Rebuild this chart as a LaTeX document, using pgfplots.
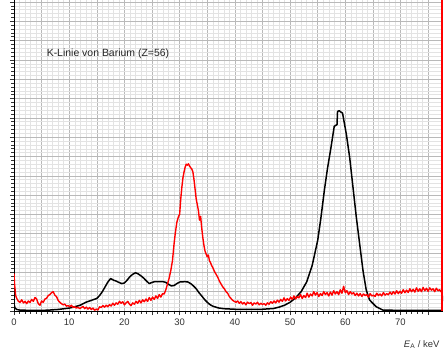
\documentclass[border=0pt]{standalone}
\usepackage{pgfplots}
\pgfplotsset{compat=1.18}
\usepackage{fontspec}
\setmainfont{Liberation Sans}
\begin{document}
\begin{tikzpicture}
\begin{axis}[
  scale only axis, width=429bp, height=311bp,
  xmin=0, xmax=77.7, ymin=0, ymax=16.1,
  axis lines=left, axis line style={-, black, line width=0.7pt},
  xtick={0,5,...,75}, xticklabels={0,,10,,20,,30,,40,,50,,60,,70,},
  minor x tick num=4,
  ytick={0,1,...,16}, yticklabels={},
  minor y tick num=4,
  grid=both,
  major grid style={gray!55, line width=0.5pt},
  minor grid style={gray!22, line width=0.4pt},
  tick align=outside, major tick length=4bp, minor tick length=2.5bp,
  tick style={black!80, line width=0.5pt},
  ticklabel style={font=\fontsize{9.5}{11}\selectfont, text=black!80},
  /pgf/number format/assume math mode=true,
  clip=true,
]
\coordinate (bl) at (rel axis cs:0,0);
\coordinate (tr) at (rel axis cs:1,1);
\addplot[black, line width=1.5pt, line join=round] coordinates {
(0,0.35)(0.2,0.15)(0.5,0.08)(1,0.05)(3,0.03)(6,0.04)(8,0.08)(10,0.15)(11,0.22)(12,0.3)(13,0.45)(14,0.55)(15,0.65)(15.5,0.8)(16,1.0)(16.5,1.25)(17,1.5)(17.5,1.68)(18,1.6)(18.5,1.55)(19,1.48)(19.5,1.42)(20,1.45)(20.5,1.6)(21,1.78)(21.5,1.9)(22,1.98)(22.5,1.92)(23,1.82)(23.5,1.7)(24,1.55)(24.5,1.42)(25,1.48)(25.5,1.52)(26,1.52)(27,1.52)(27.5,1.48)(28,1.38)(28.5,1.3)(29,1.32)(29.5,1.42)(30,1.5)(31,1.52)(31.5,1.5)(32,1.42)(32.5,1.3)(33,1.15)(33.5,0.95)(34,0.78)(34.5,0.6)(35,0.45)(35.5,0.33)(36,0.25)(37,0.16)(38,0.12)(40,0.09)(43,0.08)(45,0.09)(47,0.13)(48,0.2)(49,0.3)(50,0.45)(51,0.68)(52,1.0)(53,1.5)(54,2.35)(55,3.65)(55.6,4.85)(56.2,6.22)(56.8,7.42)(57.4,8.45)(58.0,9.56)(58.5,9.65)(58.6,10.33)(58.9,10.37)(59.2,10.3)(59.5,10.25)(60.2,9.14)(60.8,7.94)(61.4,6.39)(62.0,4.85)(62.6,3.48)(63.2,2.11)(63.8,1.08)(64.4,0.57)(65.6,0.22)(66.8,0.05)(70,0.03)(77.5,0.03)(77.6,0.8)
};
\addplot[red, line width=1.4pt, line join=round] coordinates {
(0,1.95)(0.1,1.4)(0.3,0.8)(0.5,0.65)(0.8,0.5)(1.1,0.45)(1.4,0.58)(1.7,0.42)(2.0,0.5)(2.3,0.38)(2.6,0.52)(2.9,0.44)(3.2,0.6)(3.5,0.5)(3.8,0.7)(4.1,0.62)(4.4,0.38)(4.7,0.3)(5.0,0.52)(5.3,0.45)(5.6,0.62)(5.9,0.66)(6.2,0.8)(6.5,0.85)(6.8,0.95)(7.1,1.0)(7.4,0.82)(7.7,0.74)(8.0,0.55)(8.3,0.45)(8.6,0.38)(8.9,0.32)(9.2,0.36)(9.5,0.25)(9.8,0.28)(10.1,0.22)(10.4,0.3)(10.7,0.18)(11.0,0.22)(11.3,0.15)(11.6,0.2)(11.9,0.12)(12.2,0.18)(12.5,0.24)(12.8,0.12)(13.1,0.2)(13.4,0.1)(13.7,0.18)(14.0,0.08)(14.3,0.15)(14.6,0.04)(14.9,0.1)(15.2,0.05)(15.5,0.22)(15.8,0.18)(16.1,0.28)(16.4,0.2)(16.7,0.3)(17.0,0.22)(17.3,0.33)(17.6,0.26)(17.9,0.4)(18.2,0.3)(18.5,0.42)(18.8,0.35)(19.1,0.5)(19.4,0.4)(19.7,0.48)(20.0,0.32)(20.3,0.42)(20.6,0.5)(20.9,0.36)(21.2,0.28)(21.5,0.42)(21.8,0.35)(22.1,0.5)(22.4,0.4)(22.7,0.55)(23.0,0.42)(23.3,0.58)(23.6,0.48)(23.9,0.62)(24.2,0.5)(24.5,0.7)(24.8,0.55)(25.1,0.72)(25.4,0.6)(25.7,0.78)(26.0,0.65)(26.3,0.85)(26.6,0.72)(26.9,0.9)(27.2,0.88)(27.5,1.1)(27.8,1.4)(28.1,1.7)(28.4,2.1)(28.7,2.6)(29.0,3.5)(29.2,4.0)(29.5,4.6)(29.8,4.9)(30.0,5.0)(30.2,5.8)(30.4,6.4)(30.6,6.9)(30.8,7.2)(31.0,7.45)(31.2,7.6)(31.4,7.55)(31.6,7.62)(31.8,7.5)(32.0,7.42)(32.2,7.35)(32.4,7.2)(32.6,6.8)(32.8,6.3)(33.0,5.8)(33.2,5.5)(33.4,5.2)(33.6,4.7)(33.8,4.9)(34.0,4.3)(34.2,3.8)(34.4,3.4)(34.6,3.1)(34.8,2.95)(35.0,2.8)(35.2,2.9)(35.4,2.6)(35.6,2.5)(35.8,2.35)(36.0,2.25)(36.3,2.05)(36.6,1.9)(36.9,1.75)(37.2,1.55)(37.5,1.4)(37.8,1.25)(38.1,1.15)(38.4,1.0)(38.7,0.92)(39.0,0.75)(39.3,0.65)(39.6,0.55)(39.9,0.5)(40.2,0.45)(40.5,0.52)(40.8,0.4)(41.1,0.48)(41.4,0.36)(41.7,0.44)(42.0,0.32)(42.3,0.46)(42.6,0.38)(42.9,0.44)(43.2,0.3)(43.5,0.42)(43.8,0.36)(44.1,0.45)(44.4,0.32)(44.7,0.4)(45.0,0.34)(45.3,0.38)(45.6,0.3)(45.9,0.42)(46.2,0.35)(46.5,0.48)(46.8,0.4)(47.1,0.52)(47.4,0.42)(47.7,0.56)(48.0,0.46)(48.3,0.6)(48.6,0.5)(48.9,0.68)(49.2,0.52)(49.5,0.64)(49.8,0.55)(50.1,0.72)(50.4,0.6)(50.7,0.78)(51.0,0.62)(51.3,0.75)(51.6,0.68)(51.9,0.85)(52.2,0.65)(52.5,0.8)(52.8,0.7)(53.1,0.92)(53.4,0.72)(53.7,0.88)(54.0,0.78)(54.3,1.0)(54.6,0.82)(54.9,0.95)(55.2,0.75)(55.5,0.9)(55.8,0.8)(56.1,1.0)(56.4,0.85)(56.7,0.95)(57.0,0.78)(57.3,0.98)(57.6,0.82)(57.9,1.05)(58.2,0.88)(58.5,1.0)(58.8,0.85)(59.1,1.1)(59.4,0.92)(59.7,1.28)(60.0,0.95)(60.3,1.05)(60.6,0.85)(60.9,1.0)(61.2,0.88)(61.5,0.95)(61.8,0.8)(62.1,0.92)(62.4,0.78)(62.7,0.9)(63.0,0.76)(63.3,0.88)(63.6,0.8)(63.9,0.85)(64.2,0.72)(64.5,0.9)(64.8,0.78)(65.1,0.82)(65.4,0.75)(65.7,0.92)(66.0,0.8)(66.3,0.88)(66.6,0.78)(66.9,0.95)(67.2,0.82)(67.5,0.9)(67.8,0.84)(68.1,0.98)(68.4,0.86)(68.7,1.0)(69.0,0.88)(69.3,1.05)(69.6,0.9)(69.9,1.02)(70.2,0.92)(70.5,1.1)(70.8,0.95)(71.1,1.08)(71.4,0.96)(71.7,1.15)(72.0,1.0)(72.3,1.12)(72.6,0.98)(72.9,1.2)(73.2,1.02)(73.5,1.15)(73.8,1.0)(74.1,1.22)(74.4,1.05)(74.7,1.18)(75.0,1.02)(75.3,1.2)(75.6,1.08)(75.9,1.15)(76.2,1.0)(76.5,1.18)(76.8,1.05)(77.1,1.1)(77.4,0.98)
};
\addplot[red, line width=1.4pt] coordinates {(77.55,0)(77.55,16.1)};
\node[anchor=west, font=\fontsize{10.5}{12}\selectfont, text=black!85] at (axis cs:5.3,13.3) {K-Linie von Barium (Z=56)};
\end{axis}
\node[anchor=base east, font=\fontsize{9.5}{11}\selectfont, text=black!80] at ([yshift=-36bp]bl -| tr) {\textit{E}\textsubscript{A} / keV};
\pgfresetboundingbox
\useasboundingbox ([xshift=-14bp,yshift=-46bp]bl) rectangle ([xshift=2bp]tr);
\end{tikzpicture}
\end{document}
